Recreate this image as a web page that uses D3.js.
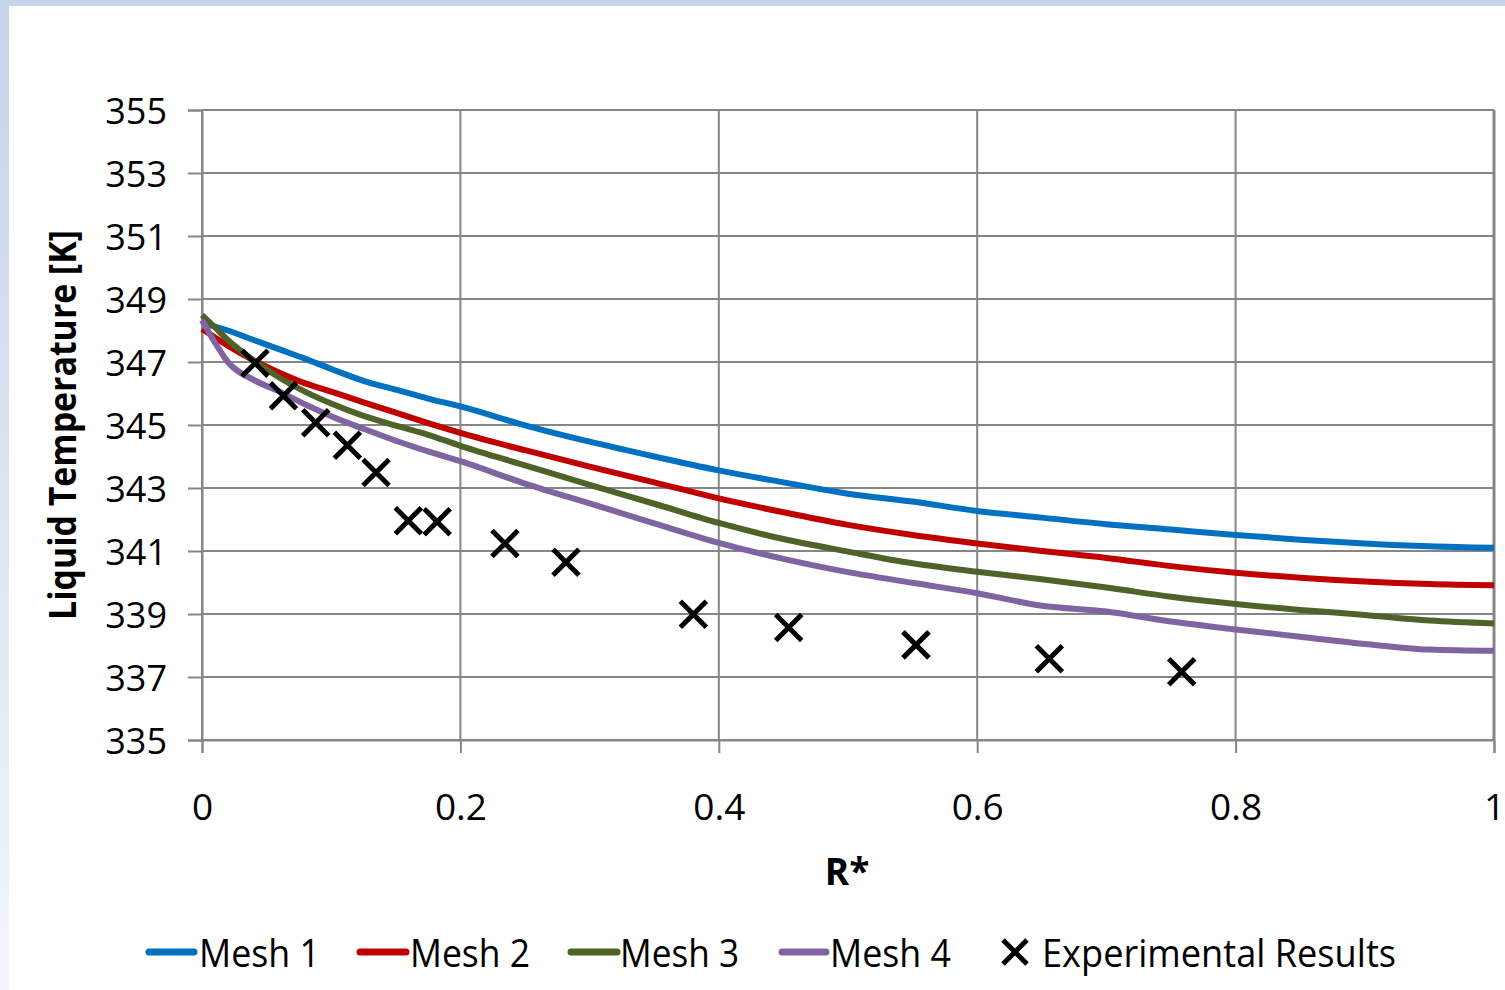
<!DOCTYPE html>
<html>
<head>
<meta charset="utf-8">
<script src="https://cdn.jsdelivr.net/npm/d3@7"></script>
<style>
  html, body { margin: 0; padding: 0; background: #fff; }
  svg { display: block; }
  text { font-family: "Open Sans", "Noto Sans", sans-serif; fill: #000; }
</style>
</head>
<body>
<svg id="chart" width="1505" height="990"></svg>
<script>
// Dimensionless radius R*
const rStar = [0, 0.01, 0.02, 0.04, 0.06, 0.08, 0.1, 0.125, 0.15, 0.175, 0.2, 0.25, 0.3, 0.35,
               0.4, 0.45, 0.5, 0.55, 0.6, 0.65, 0.7, 0.75, 0.8, 0.85, 0.9, 0.95, 1.0];

// Simulated liquid temperature [K] for each mesh
const mesh1 = [348.25, 348.12, 348.0, 347.7, 347.4, 347.1, 346.78, 346.4, 346.12, 345.84, 345.59, 344.99, 344.47, 344.0,
               343.56, 343.18, 342.82, 342.57, 342.27, 342.06, 341.85, 341.68, 341.51, 341.36, 341.24, 341.15, 341.10];
const mesh2 = [348.05, 347.78, 347.52, 347.05, 346.66, 346.32, 346.06, 345.72, 345.39, 345.06, 344.75, 344.2, 343.68, 343.18,
               342.67, 342.23, 341.83, 341.51, 341.24, 341.0, 340.78, 340.52, 340.31, 340.15, 340.03, 339.95, 339.91];
const mesh3 = [348.49, 348.1, 347.7, 347.05, 346.5, 346.05, 345.68, 345.29, 344.98, 344.69, 344.34, 343.72, 343.1, 342.5,
               341.89, 341.38, 340.98, 340.61, 340.34, 340.1, 339.84, 339.55, 339.32, 339.13, 338.97, 338.79, 338.70];
const mesh4 = [348.33, 347.62, 347.0, 346.43, 346.06, 345.65, 345.28, 344.88, 344.5, 344.16, 343.85, 343.14, 342.51, 341.88,
               341.26, 340.75, 340.33, 339.99, 339.66, 339.26, 339.08, 338.76, 338.51, 338.28, 338.05, 337.87, 337.83];

// Measured values
const expR = [0.041, 0.063, 0.088, 0.1125, 0.1347, 0.1597, 0.182, 0.2345, 0.2817, 0.3803, 0.4541, 0.5526, 0.6558, 0.7583];
const expT = [346.96, 345.93, 345.07, 344.36, 343.49, 341.96, 341.93, 341.24, 340.64, 338.99, 338.57, 338.02, 337.58, 337.17];

const seriesNames = ["Mesh 1", "Mesh 2", "Mesh 3", "Mesh 4"];
const seriesColors = ["#0070C0", "#C00000", "#4F6228", "#8064A2"];
const expName = "Experimental Results";

const yTicks = [335, 337, 339, 341, 343, 345, 347, 349, 351, 353, 355];
const xTicks = [0, 0.2, 0.4, 0.6, 0.8, 1];

const svg = d3.select("#chart");
const W = 1505, H = 990;
const plot = { left: 202, right: 1494, top: 110, bottom: 740 };

// Window frame bands
const defs = svg.append("defs");
const grad = defs.append("linearGradient").attr("id", "sideBand")
  .attr("x1", 0).attr("y1", 0).attr("x2", 0).attr("y2", 1);
grad.append("stop").attr("offset", "0%").attr("stop-color", "#C6D3EA");
grad.append("stop").attr("offset", "100%").attr("stop-color", "#F3F5F9");
svg.append("rect").attr("x", 0).attr("y", 0).attr("width", W).attr("height", H).attr("fill", "#fff");
svg.append("rect").attr("x", 0).attr("y", 0).attr("width", 9).attr("height", H).attr("fill", "url(#sideBand)");
svg.append("rect").attr("x", 0).attr("y", 0).attr("width", W).attr("height", 6).attr("fill", "#C6D3EA");

const x = d3.scaleLinear().domain([0, 1]).range([plot.left, plot.right]);
const y = d3.scaleLinear().domain([335, 355]).range([plot.bottom, plot.top]);

const gridColor = "#868686";

// Gridlines
const grid = svg.append("g");
grid.selectAll("line.h").data(yTicks).join("line")
  .attr("x1", plot.left).attr("x2", plot.right)
  .attr("y1", d => y(d)).attr("y2", d => y(d))
  .attr("stroke", gridColor).attr("stroke-width", 2);
grid.selectAll("line.v").data(xTicks).join("line")
  .attr("x1", d => x(d)).attr("x2", d => x(d))
  .attr("y1", plot.top).attr("y2", plot.bottom)
  .attr("stroke", gridColor).attr("stroke-width", d => d === 1 ? 3 : 2);

// Y axis
const yAxis = svg.append("g").attr("transform", `translate(${plot.left},0)`)
  .call(d3.axisLeft(y).tickValues(yTicks).tickSize(14).tickPadding(21).tickFormat(d3.format("d")));
yAxis.select(".domain").attr("stroke", gridColor).attr("stroke-width", 2);
yAxis.selectAll(".tick line").attr("stroke", gridColor).attr("stroke-width", 2);
yAxis.selectAll(".tick text").attr("font-size", 36).attr("font-family", null)
  .attr("dy", "13px").attr("fill", "#000");

// X axis
const xAxis = svg.append("g").attr("transform", `translate(0,${plot.bottom})`)
  .call(d3.axisBottom(x).tickValues(xTicks).tickSize(13).tickFormat(d => d === 0 || d === 1 ? d3.format("d")(d) : d3.format(".1f")(d)));
xAxis.select(".domain").attr("stroke", gridColor).attr("stroke-width", 2);
xAxis.selectAll(".tick line").attr("stroke", gridColor).attr("stroke-width", 2);
xAxis.selectAll(".tick text").attr("font-size", 37).attr("font-family", null)
  .attr("y", 80).attr("dy", null).attr("fill", "#000");

// Axis titles
svg.append("text")
  .attr("transform", "translate(76,425) rotate(-90)")
  .attr("text-anchor", "middle").attr("font-weight", "bold").attr("font-size", 37)
  .attr("textLength", 390).attr("lengthAdjust", "spacingAndGlyphs")
  .text("Liquid Temperature [K]");
svg.append("text")
  .attr("x", 847).attr("y", 885)
  .attr("text-anchor", "middle").attr("font-weight", "bold").attr("font-size", 37)
  .text("R*");

// Mesh curves
const line = d3.line().x(d => x(d[0])).y(d => y(d[1])).curve(d3.curveMonotoneX);
const allMesh = [mesh1, mesh2, mesh3, mesh4];
svg.append("g").selectAll("path").data(allMesh).join("path")
  .attr("d", vals => line(rStar.map((r, i) => [r, vals[i]])))
  .attr("fill", "none")
  .attr("stroke", (d, i) => seriesColors[i])
  .attr("stroke-width", 6)
  .attr("stroke-linejoin", "round")
  .attr("stroke-linecap", "butt");

// Experimental markers
const crossPath = "M-13,-13L13,13M-13,13L13,-13";
svg.append("g").selectAll("path").data(expR.map((r, i) => [r, expT[i]])).join("path")
  .attr("transform", d => `translate(${x(d[0])},${y(d[1])})`)
  .attr("d", crossPath)
  .attr("fill", "none").attr("stroke", "#000").attr("stroke-width", 5);

// Legend
const legendItems = [
  { seg: [149, 194], text: 199, len: 121 },
  { seg: [360, 406], text: 410, len: 120 },
  { seg: [571, 617], text: 620, len: 119 },
  { seg: [782, 826], text: 830, len: 121 }
];
const legend = svg.append("g");
const legendY = 952, legendBase = 967;
legend.selectAll("line").data(legendItems).join("line")
  .attr("x1", d => d.seg[0]).attr("x2", d => d.seg[1])
  .attr("y1", legendY).attr("y2", legendY)
  .attr("stroke", (d, i) => seriesColors[i])
  .attr("stroke-width", 7).attr("stroke-linecap", "round");
legend.selectAll("text.s").data(legendItems).join("text")
  .attr("x", d => d.text).attr("y", legendBase)
  .attr("font-size", 38)
  .attr("textLength", d => d.len).attr("lengthAdjust", "spacingAndGlyphs")
  .text((d, i) => seriesNames[i]);
legend.append("path")
  .attr("transform", `translate(1015,${legendY})`)
  .attr("d", "M-12,-12L12,12M-12,12L12,-12")
  .attr("fill", "none").attr("stroke", "#000").attr("stroke-width", 5);
legend.append("text")
  .attr("x", 1042).attr("y", legendBase)
  .attr("font-size", 38)
  .attr("textLength", 354).attr("lengthAdjust", "spacingAndGlyphs")
  .text(expName);
</script>
</body>
</html>
